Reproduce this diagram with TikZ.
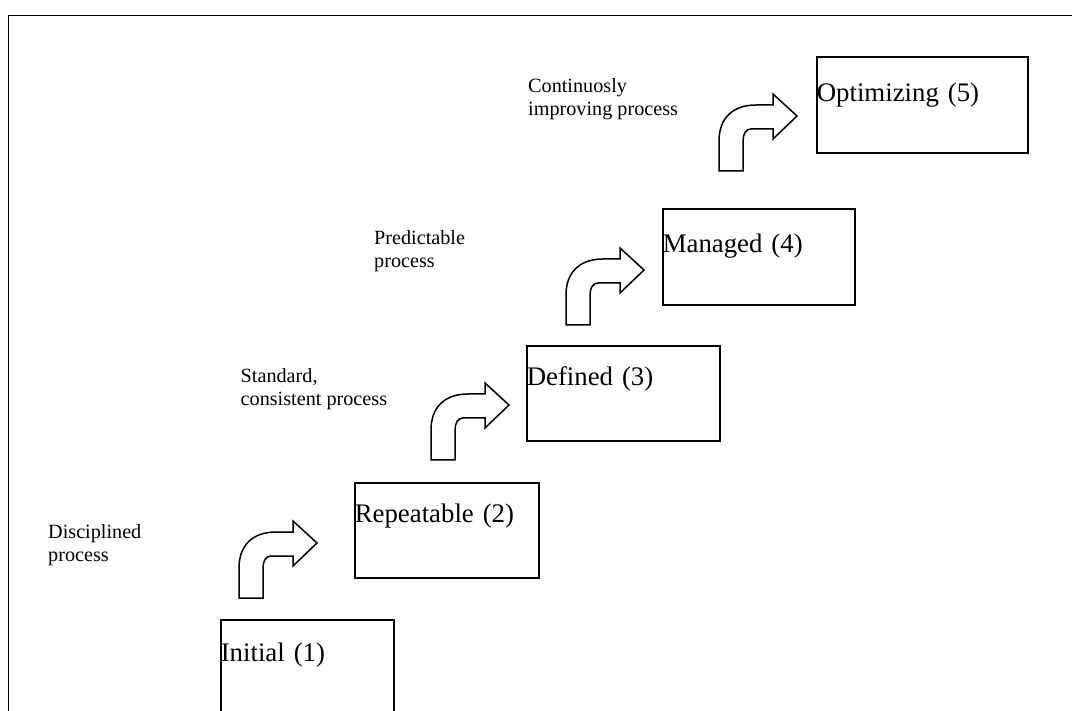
\documentclass[tikz,border=0pt]{standalone}
\usepackage{fontspec}
\setmainfont{Liberation Serif}
\begin{document}
\begin{tikzpicture}[x=1pt,y=-1pt,
  stage/.style={draw, line width=1.6pt, anchor=north west, inner sep=0pt, align=left,
    font=\fontsize{26.8}{30}\selectfont},
  note/.style={anchor=north west, inner sep=0pt, align=left,
    font=\fontsize{20.2}{23.3}\selectfont},
  bentarrow/.pic={\draw[line width=1.5pt, line join=miter, fill=white]
    (0,0) -- (0,-30) .. controls (0,-53) and (14,-66) .. (37,-66) -- (54,-66)
    -- (54,-77) -- (78,-55) -- (54,-32) -- (54,-42) -- (32,-42)
    .. controls (27,-42) and (24,-37) .. (24,-30) -- (24,0) -- cycle;}
]
\useasboundingbox (0,0) rectangle (1072,711);
\clip (0,0) rectangle (1072,711);
\fill[white] (0,0) rectangle (1072,711);
% frame
\draw[line width=1.9pt] (1072,15.5) -- (8.5,15.5) -- (8.5,711);
% stages
\node[stage, text width=173pt, text height=41.5pt, text depth=53.5pt] (s1) at (220,619) {Initial (1)};
\node[stage, text width=184pt, text height=40pt, text depth=55pt] (s2) at (354,482) {Repeatable (2)};
\node[stage, text width=193pt, text height=39.5pt, text depth=55.5pt] (s3) at (526,345) {Defined (3)};
\node[stage, text width=192pt, text height=43.5pt, text depth=52.5pt] (s4) at (662,208) {Managed (4)};
\node[stage, text width=211pt, text height=45pt, text depth=51pt] (s5) at (816,56) {Optimizing (5)};
% arrows
\pic (a1) at (239,598) {bentarrow};
\pic (a2) at (431,460) {bentarrow};
\pic (a3) at (566,325) {bentarrow};
\pic (a4) at (719,171) {bentarrow};
% notes
\node[note] (n1) at (48,524) {Disciplined\\process};
\node[note] (n2) at (240.5,368) {Standard,\\consistent process};
\node[note] (n3) at (374,230) {Predictable\\process};
\node[note] (n4) at (528,78) {Continuosly\\improving process};
\end{tikzpicture}
\end{document}
